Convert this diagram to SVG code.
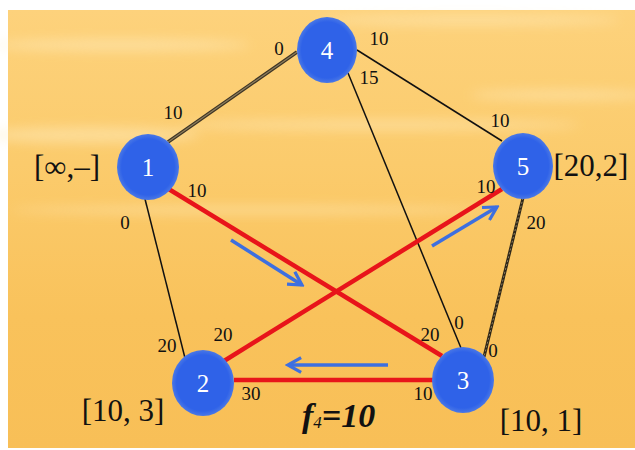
<svg xmlns="http://www.w3.org/2000/svg" width="635" height="450" viewBox="0 0 635 450">
<defs>
<linearGradient id="bg" x1="0" y1="0" x2="0" y2="1">
<stop offset="0" stop-color="#FDD27C"/>
<stop offset="0.35" stop-color="#FBCB6C"/>
<stop offset="0.7" stop-color="#F9C25B"/>
<stop offset="1" stop-color="#F8BF57"/>
</linearGradient>
<radialGradient id="nodeFill" cx="0.5" cy="0.5" r="0.5">
<stop offset="0" stop-color="#2F62E8"/>
<stop offset="0.85" stop-color="#2F62E8"/>
<stop offset="1" stop-color="#4A78E6"/>
</radialGradient>
<filter id="soft" x="-20%" y="-200%" width="140%" height="500%">
<feGaussianBlur stdDeviation="6"/>
</filter>
<marker id="chev" viewBox="0 0 12 12" refX="10" refY="6" markerWidth="5" markerHeight="5" orient="auto" markerUnits="strokeWidth">
<path d="M1,1 L10,6 L1,11" fill="none" stroke="#3D6FE0" stroke-width="2.2" stroke-linejoin="miter"/>
</marker>
<style>
.node ellipse{fill:url(#nodeFill);}
.node text{font-family:"Liberation Serif","DejaVu Serif",serif;font-size:25px;fill:#ffffff;text-anchor:middle;}
.thin{stroke:#111111;stroke-width:1.5;fill:none;}
.red{stroke:#E8141A;stroke-width:4.5;fill:none;}
.blue{stroke:#3D6FE0;stroke-width:3.5;fill:none;marker-end:url(#chev);}
.num{font-family:"Liberation Serif","DejaVu Serif",serif;font-size:19px;fill:#111111;text-anchor:middle;}
.tag{font-family:"Liberation Serif","DejaVu Serif",serif;font-size:31px;fill:#111111;text-anchor:middle;}
.f4{font-family:"Liberation Serif","DejaVu Serif",serif;font-size:34px;font-weight:bold;font-style:italic;fill:#111111;}
</style>
</defs>
<rect x="0" y="0" width="635" height="450" fill="#ffffff"/>
<rect x="8" y="10" width="627" height="438" fill="url(#bg)"/>
<g opacity="0.45" fill="#FFF0C8" filter="url(#soft)">
<ellipse cx="120" cy="45" rx="130" ry="6"/>
<ellipse cx="470" cy="20" rx="150" ry="5"/>
<ellipse cx="90" cy="135" rx="110" ry="8"/>
<ellipse cx="380" cy="125" rx="200" ry="5"/>
<ellipse cx="560" cy="95" rx="90" ry="5"/>
<ellipse cx="250" cy="210" rx="240" ry="4"/>
</g>
<g id="connectors">
<line x1="168" y1="142" x2="297" y2="52" stroke="#3E3424" stroke-width="3.5"/>
<line x1="168" y1="142" x2="297" y2="52" stroke="#8C7D5C" stroke-width="1.2"/>
<line class="thin" x1="357" y1="50" x2="502" y2="141"/>
<line class="thin" x1="348" y1="73" x2="461" y2="348"/>
<line x1="523" y1="198" x2="484" y2="357" stroke="#2E2618" stroke-width="3"/>
<line x1="523" y1="198" x2="484" y2="357" stroke="#8C7D5C" stroke-width="1" stroke-dasharray="2 2"/>
<line class="thin" x1="145" y1="199" x2="185" y2="358"/>
<line class="red" x1="167" y1="188" x2="442" y2="356"/>
<line class="red" x1="224" y1="361" x2="502" y2="189"/>
<line class="red" x1="234" y1="380" x2="433" y2="380" stroke-width="5"/>
<line class="blue" x1="231" y1="240" x2="302" y2="285"/>
<line class="blue" x1="432" y1="246" x2="497" y2="207"/>
<line class="blue" x1="388" y1="365" x2="288" y2="365"/>
</g>
<g id="node1" class="node"><ellipse cx="148" cy="167" rx="31" ry="33"/><text x="148" y="176">1</text></g>
<g id="node2" class="node"><ellipse cx="203" cy="383" rx="31" ry="33"/><text x="203" y="392">2</text></g>
<g id="node3" class="node"><ellipse cx="463" cy="380" rx="31" ry="33"/><text x="463" y="389">3</text></g>
<g id="node4" class="node"><ellipse cx="327" cy="50" rx="30" ry="33"/><text x="327" y="59">4</text></g>
<g id="node5" class="node"><ellipse cx="523" cy="166" rx="30" ry="33"/><text x="523" y="175">5</text></g>
<g id="labels">
<text class="num" x="279" y="55">0</text>
<text class="num" x="173" y="119">10</text>
<text class="num" x="379" y="45">10</text>
<text class="num" x="369" y="84">15</text>
<text class="num" x="500" y="127">10</text>
<text class="num" x="486" y="193">10</text>
<text class="num" x="536" y="229">20</text>
<text class="num" x="197" y="197">10</text>
<text class="num" x="125" y="229">0</text>
<text class="num" x="167" y="352">20</text>
<text class="num" x="223" y="341">20</text>
<text class="num" x="251" y="400">30</text>
<text class="num" x="423" y="400">10</text>
<text class="num" x="430" y="341">20</text>
<text class="num" x="459" y="329">0</text>
<text class="num" x="493" y="357">0</text>
<text class="tag" x="67" y="177">[∞,–]</text>
<text class="tag" x="591" y="176">[20,2]</text>
<text class="tag" x="123" y="421">[10, 3]</text>
<text class="tag" x="541" y="431">[10, 1]</text>
<text class="f4" x="302" y="427">f<tspan font-size="17" font-weight="normal" dy="1">4</tspan><tspan dy="-1">=10</tspan></text>
</g>
</svg>
